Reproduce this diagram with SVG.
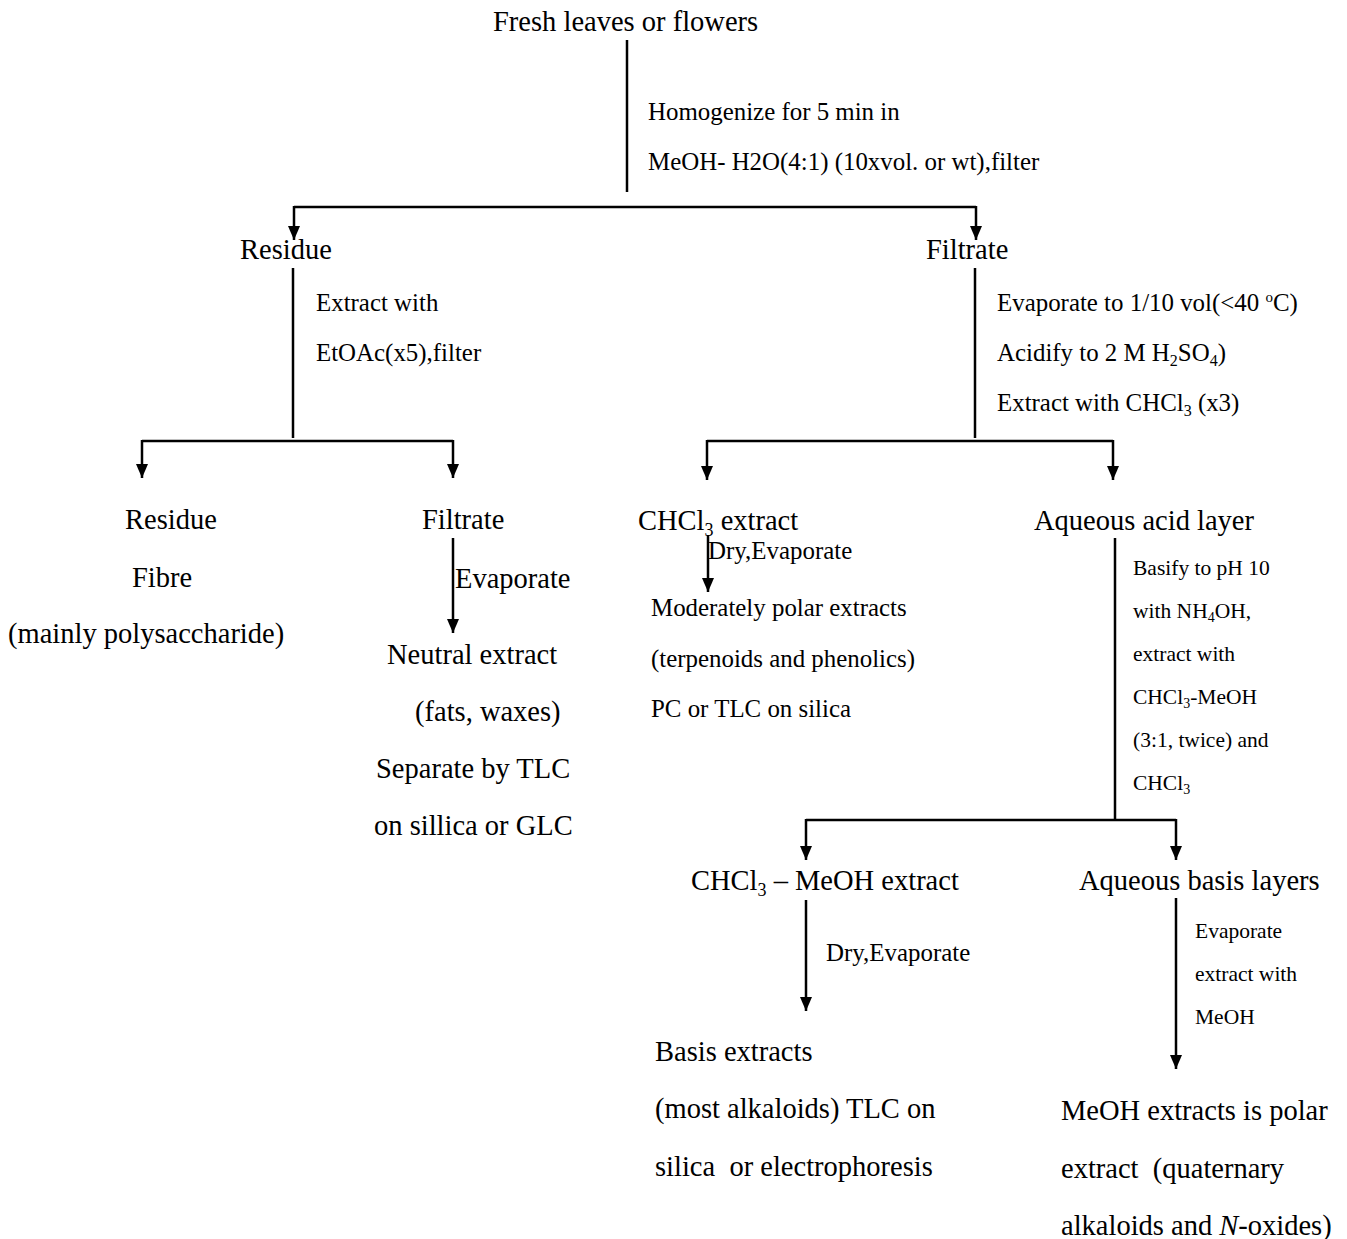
<svg xmlns="http://www.w3.org/2000/svg" width="1347" height="1239" viewBox="0 0 1347 1239">
<style>
text{font-family:"Liberation Serif","Times New Roman",serif;fill:#000}
.l{font-size:28.5px}
.m{font-size:24.9px}
.s{font-size:21.5px}
.c{stroke:#000;stroke-width:2.5;fill:none}
</style>
<defs>
<marker id="ah" markerUnits="userSpaceOnUse" markerWidth="14" markerHeight="12" refX="14" refY="6" orient="auto">
<path d="M0,0 L14,6 L0,12 z" fill="#000"/>
</marker>
</defs>
<rect width="1347" height="1239" fill="#fff"/>
<g id="connectors">
<line class="c" x1="627" y1="40" x2="627" y2="192"/>
<line class="c" x1="294" y1="207" x2="976" y2="207" stroke-width="3"/>
<line class="c" x1="294" y1="206" x2="294" y2="240" marker-end="url(#ah)"/>
<line class="c" x1="976" y1="206" x2="976" y2="240" marker-end="url(#ah)"/>
<line class="c" x1="293" y1="268" x2="293" y2="438"/>
<line class="c" x1="142" y1="441" x2="453" y2="441"/>
<line class="c" x1="142" y1="440" x2="142" y2="478" marker-end="url(#ah)"/>
<line class="c" x1="453" y1="440" x2="453" y2="478" marker-end="url(#ah)"/>
<line class="c" x1="453" y1="538" x2="453" y2="633" marker-end="url(#ah)"/>
<line class="c" x1="975" y1="268" x2="975" y2="438"/>
<line class="c" x1="707" y1="441" x2="1113" y2="441"/>
<line class="c" x1="707" y1="440" x2="707" y2="480" marker-end="url(#ah)"/>
<line class="c" x1="1113" y1="440" x2="1113" y2="480" marker-end="url(#ah)"/>
<line class="c" x1="708" y1="535" x2="708" y2="592" marker-end="url(#ah)"/>
<line class="c" x1="1115" y1="538" x2="1115" y2="820"/>
<line class="c" x1="806" y1="820" x2="1176" y2="820"/>
<line class="c" x1="806" y1="819" x2="806" y2="860" marker-end="url(#ah)"/>
<line class="c" x1="1176" y1="819" x2="1176" y2="860" marker-end="url(#ah)"/>
<line class="c" x1="806" y1="900" x2="806" y2="1011" marker-end="url(#ah)"/>
<line class="c" x1="1176" y1="898" x2="1176" y2="1069" marker-end="url(#ah)"/>
</g>
<g id="n-fresh"><text class="l" x="493" y="31">Fresh leaves or flowers</text></g>
<g id="step-homogenize">
<text class="m" x="648" y="120">Homogenize for 5 min in</text>
<text class="m" x="648" y="170">MeOH- H2O(4:1) (10xvol. or wt),filter</text>
</g>
<g id="n-residue1"><text class="l" x="240" y="259">Residue</text></g>
<g id="n-filtrate1"><text class="l" x="926" y="259">Filtrate</text></g>
<g id="step-etoac">
<text class="m" x="316" y="311">Extract with</text>
<text class="m" x="316" y="361">EtOAc(x5),filter</text>
</g>
<g id="step-evap-acid">
<text class="m" x="997" y="311">Evaporate to 1/10 vol(&lt;40 <tspan font-size="15" dy="-9">o</tspan><tspan dy="9">C)</tspan></text>
<text class="m" x="997" y="361">Acidify to 2 M H<tspan font-size="16" dy="5">2</tspan><tspan dy="-5">SO</tspan><tspan font-size="16" dy="5">4</tspan><tspan dy="-5">)</tspan></text>
<text class="m" x="997" y="411">Extract with CHCl<tspan font-size="16" dy="5">3</tspan><tspan dy="-5"> (x3)</tspan></text>
</g>
<g id="n-residue2">
<text class="l" x="125" y="529">Residue</text>
<text class="l" x="132" y="587">Fibre</text>
<text class="l" x="8" y="643">(mainly polysaccharide)</text>
</g>
<g id="n-filtrate2"><text class="l" x="422" y="529">Filtrate</text></g>
<g id="step-evaporate1"><text class="l" x="455" y="588">Evaporate</text></g>
<g id="n-neutral">
<text class="l" x="387" y="664">Neutral extract</text>
<text class="l" x="415" y="721">(fats, waxes)</text>
<text class="l" x="376" y="778">Separate by TLC</text>
<text class="l" x="374" y="835">on sillica or GLC</text>
</g>
<g id="n-chcl3"><text class="l" x="638" y="530">CHCl<tspan font-size="18" dy="6">3</tspan><tspan dy="-6"> extract</tspan></text></g>
<g id="step-dry1"><text class="m" x="708" y="559">Dry,Evaporate</text></g>
<g id="n-moderate">
<text class="m" x="651" y="616">Moderately polar extracts</text>
<text class="m" x="651" y="667">(terpenoids and phenolics)</text>
<text class="m" x="651" y="717">PC or TLC on silica</text>
</g>
<g id="n-aqueous-acid"><text class="l" x="1034" y="530">Aqueous acid layer</text></g>
<g id="step-basify">
<text class="s" x="1133" y="575">Basify to pH 10</text>
<text class="s" x="1133" y="618">with NH<tspan font-size="14" dy="4">4</tspan><tspan dy="-4">OH,</tspan></text>
<text class="s" x="1133" y="661">extract with</text>
<text class="s" x="1133" y="704">CHCl<tspan font-size="14" dy="4">3</tspan><tspan dy="-4">-MeOH</tspan></text>
<text class="s" x="1133" y="747">(3:1, twice) and</text>
<text class="s" x="1133" y="790">CHCl<tspan font-size="14" dy="4">3</tspan></text>
</g>
<g id="n-chcl3-meoh"><text class="l" x="691" y="890">CHCl<tspan font-size="18" dy="6">3</tspan><tspan dy="-6"> – MeOH extract</tspan></text></g>
<g id="n-aqueous-basis"><text class="l" x="1079" y="890">Aqueous basis layers</text></g>
<g id="step-dry2"><text class="m" x="826" y="961">Dry,Evaporate</text></g>
<g id="step-evaporate2">
<text class="s" x="1195" y="938">Evaporate</text>
<text class="s" x="1195" y="981">extract with</text>
<text class="s" x="1195" y="1024">MeOH</text>
</g>
<g id="n-basis">
<text class="l" x="655" y="1061">Basis extracts</text>
<text class="l" x="655" y="1118">(most alkaloids) TLC on</text>
<text class="l" x="655" y="1176" xml:space="preserve">silica  or electrophoresis</text>
</g>
<g id="n-meoh">
<text class="l" x="1061" y="1120">MeOH extracts is polar</text>
<text class="l" x="1061" y="1178" xml:space="preserve">extract  (quaternary</text>
<text class="l" x="1061" y="1235">alkaloids and <tspan font-style="italic">N</tspan>-oxides)</text>
</g>
</svg>
